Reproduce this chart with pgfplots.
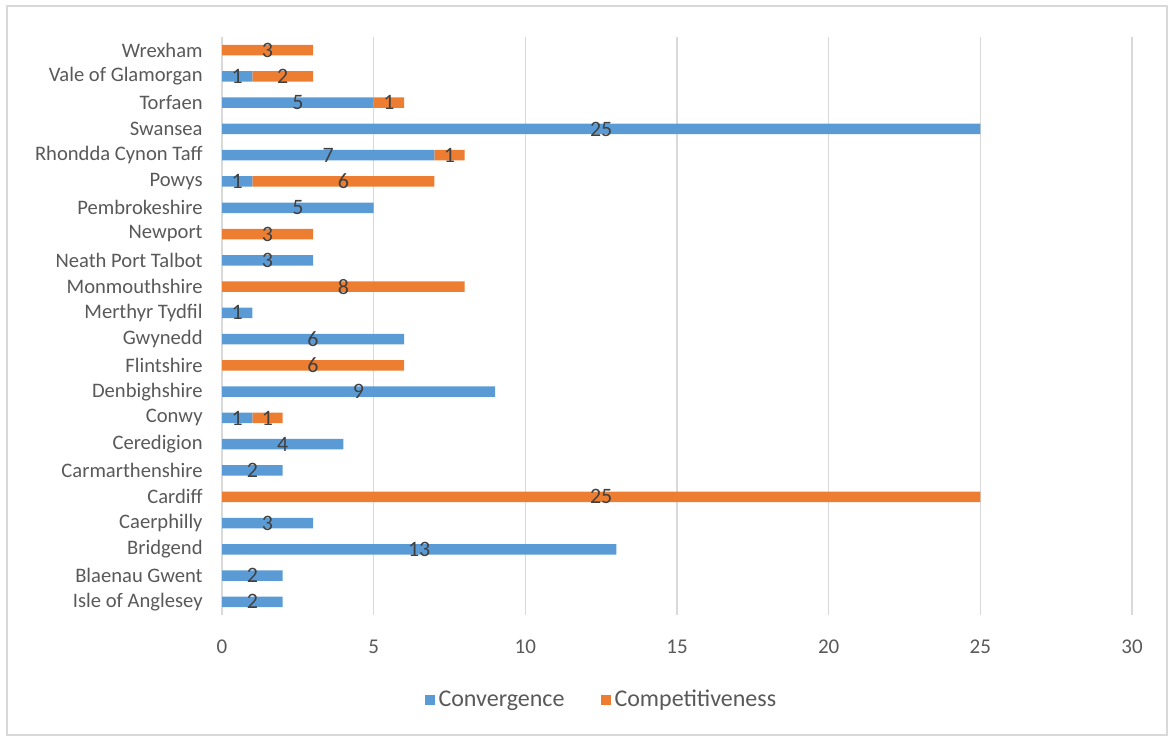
\documentclass[border=0pt]{standalone}
\usepackage{pgfplots}
\pgfplotsset{compat=1.18}
\usepackage{pgfplotstable}
\usepackage{fontspec}
\setmainfont{Carlito}
\definecolor{conv}{HTML}{5B9BD5}
\definecolor{comp}{HTML}{ED7D31}
\definecolor{txt}{HTML}{595959}
\definecolor{lbl}{HTML}{404040}
\definecolor{gridc}{HTML}{D9D9D9}

\pgfplotstableread{
y conv comp
0 2 0
1 2 0
2 13 0
3 3 0
4 0 25
5 2 0
6 4 0
7 1 1
8 9 0
9 0 6
10 6 0
11 1 0
12 0 8
13 3 0
14 0 3
15 5 0
16 1 6
17 7 1
18 25 0
19 5 1
20 1 2
21 0 3
}\data

\pgfplotsset{sqlegend/.style={legend image code/.code={\fill[##1] (0pt,-2.5pt) rectangle (5pt,2.5pt);}}}

\begin{document}
\begin{tikzpicture}
\useasboundingbox (0,0) rectangle (586.5pt,368.5pt);
\draw[color=gridc, line width=0.8pt] (3.5pt,1pt) rectangle (583.5pt,365.5pt);
\begin{axis}[
 at={(111pt,61pt)}, anchor=south west,
 scale only axis, width=455pt, height=289pt,
 xbar stacked, bar width=5.25pt,
 xmin=0, xmax=30, ymin=-0.5, ymax=21.5,
 xtick={0,5,...,30},
 ytick={0,...,21},
 yticklabels={Isle of Anglesey, Blaenau Gwent, Bridgend, Caerphilly, Cardiff, Carmarthenshire, Ceredigion, Conwy, Denbighshire, Flintshire, Gwynedd, Merthyr Tydfil, Monmouthshire, Neath Port Talbot, Newport, Pembrokeshire, Powys, Rhondda Cynon Taff, Swansea, Torfaen, Vale of Glamorgan, Wrexham},
 xmajorgrids, major grid style={draw=gridc, line width=0.8pt},
 axis line style={draw=none},
 tick style={draw=none},
 /pgf/number format/assume math mode=true,
 yticklabel style={anchor=east, inner sep=0pt, xshift=-9.5pt, font=\fontsize{10.3}{12}\selectfont, text=txt},
 xticklabel style={anchor=center, inner sep=0pt, yshift=-16pt, font=\fontsize{10.5}{12}\selectfont, text=txt},
 legend style={at={(0.418,-0.147)}, anchor=center, draw=none, legend columns=2, font=\fontsize{12}{14}\selectfont, text=txt, /tikz/every even column/.append style={column sep=16pt}},
 visualization depends on=rawx \as \rawx,
 nodes near coords={\ifdim\rawx pt>0pt\pgfmathprintnumber{\rawx}\fi},
 every node near coord/.append style={anchor=center, font=\fontsize{11}{12}\selectfont, text=lbl},
]
\addplot[fill=conv, draw=none, sqlegend] table[x=conv, y=y] {\data};
\addplot[fill=comp, draw=none, sqlegend] table[x=comp, y=y] {\data};
\legend{Convergence, Competitiveness}
\end{axis}
\end{tikzpicture}
\end{document}
